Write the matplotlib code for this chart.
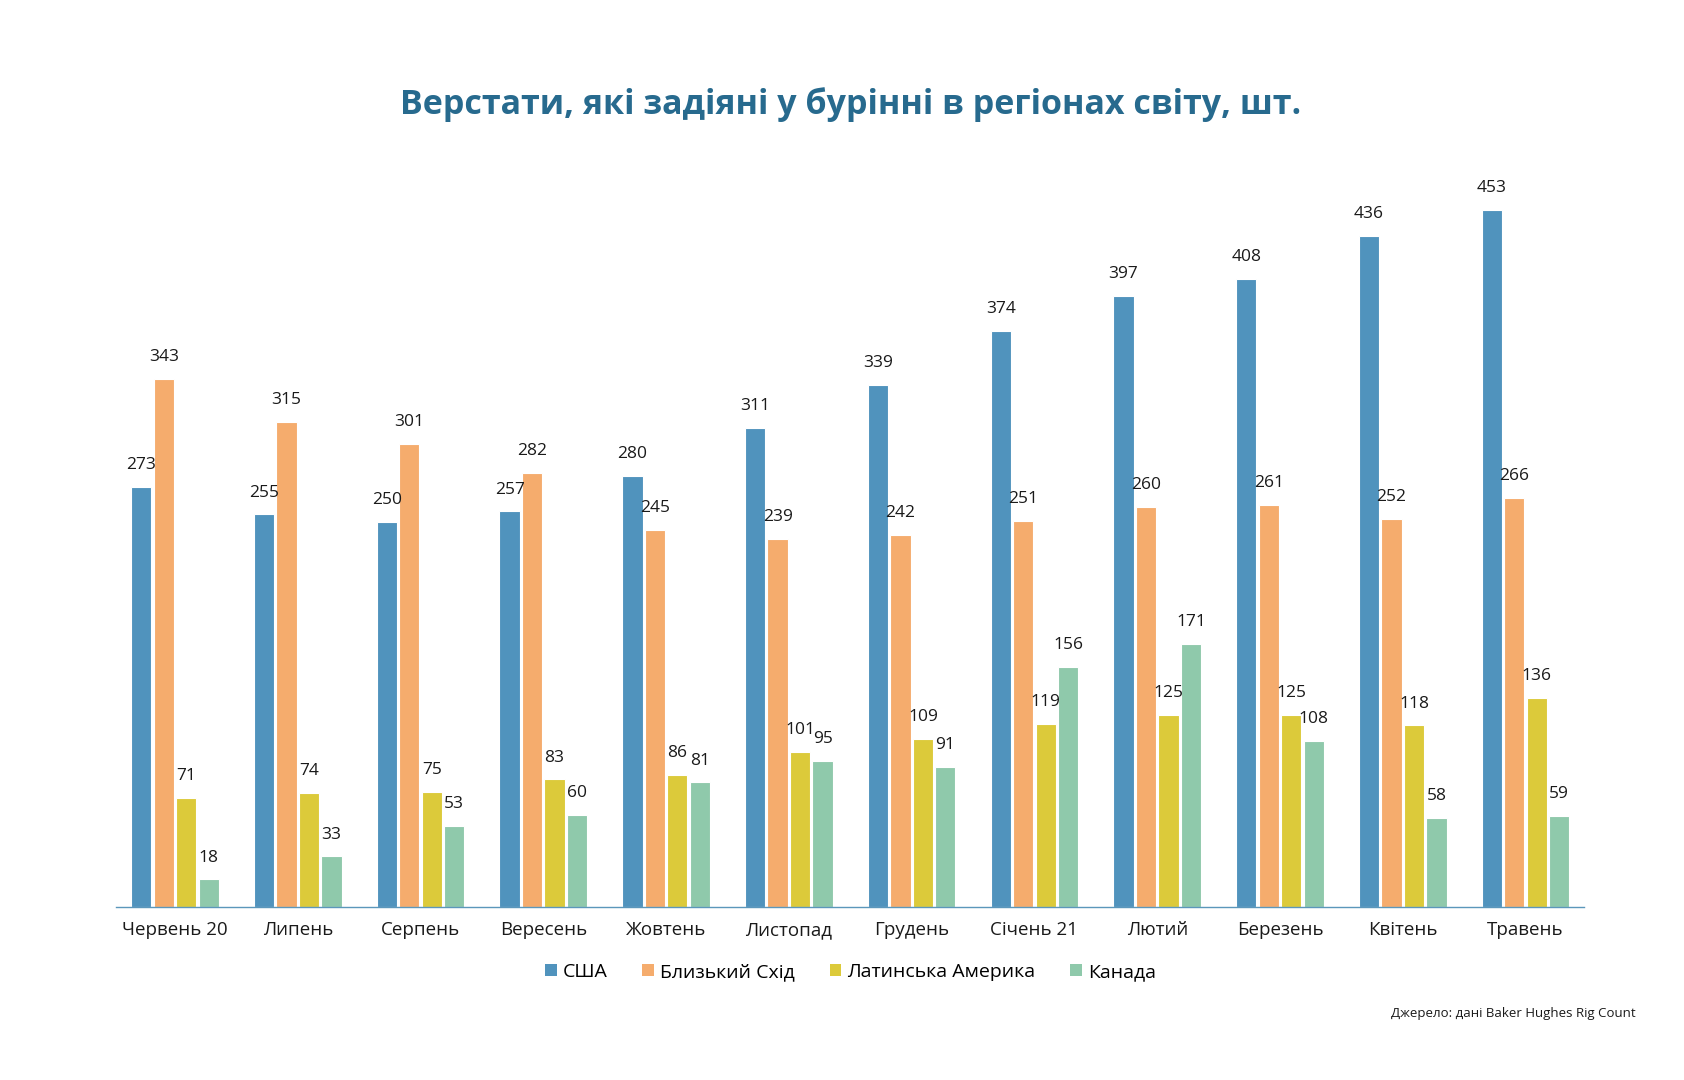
"""
Rig count by world region, June 2020 - May 2021 (grouped bars).
"""

import matplotlib.pyplot as plt
import numpy as np
from matplotlib.patches import Patch

MONTHS = ["Червень 20", "Липень", "Серпень", "Вересень", "Жовтень", "Листопад",
          "Грудень", "Січень 21", "Лютий", "Березень", "Квітень", "Травень"]
USA = [273, 255, 250, 257, 280, 311, 339, 374, 397, 408, 436, 453]
MIDDLE_EAST = [343, 315, 301, 282, 245, 239, 242, 251, 260, 261, 252, 266]
LATAM = [71, 74, 75, 83, 86, 101, 109, 119, 125, 125, 118, 136]
CANADA = [18, 33, 53, 60, 81, 95, 91, 156, 171, 108, 58, 59]
SERIES = ["США", "Близький Схід", "Латинська Америка", "Канада"]

COLORS = ["#5093bd", "#f5ac6d", "#dcca3a", "#8fc9ab"]
TITLE_C, INK, AXIS_C = "#276a8e", "#1a1a1a", "#5b97bb"

plt.rcParams["font.family"] = ["Open Sans", "DejaVu Sans"]

fig = plt.figure(figsize=(16.84, 10.8), dpi=100)
ax = fig.add_axes([0.0689, 0.160, 0.872, 0.713])

x = np.arange(len(MONTHS))
slot = 0.183
width = 0.165
for i, (vals, col) in enumerate(zip([USA, MIDDLE_EAST, LATAM, CANADA], COLORS)):
    pos = x + (i - 1.5) * slot
    bars = ax.bar(pos, vals, width=width, color=col, edgecolor="white", linewidth=0.8)
    for b, v in zip(bars, vals):
        ax.text(b.get_x() + b.get_width() / 2, v + 9, str(v), ha="center", va="bottom",
                fontsize=12.5, color=INK)

ax.set_xlim(-0.48, 11.48)
ax.set_ylim(0, 500)
ax.set_xticks(x)
ax.set_xticklabels(MONTHS, fontsize=13.5, color=INK)
ax.tick_params(axis="x", length=0, pad=10)
ax.set_yticks([])
for s in ["top", "right", "left"]:
    ax.spines[s].set_visible(False)
ax.spines["bottom"].set_color(AXIS_C)
ax.spines["bottom"].set_linewidth(1.0)

fig.text(0.505, 0.903, "Верстати, які задіяні у бурінні в регіонах світу, шт.",
         ha="center", va="center", fontsize=24.5, fontweight="bold", color=TITLE_C)

handles = [Patch(facecolor=c, edgecolor="none") for c in COLORS]
fig.legend(handles, SERIES, loc="center", bbox_to_anchor=(0.505, 0.1), ncol=4,
           frameon=False, fontsize=14, handlelength=0.6, handleheight=0.6,
           handletextpad=0.3, columnspacing=1.8)

fig.text(0.971, 0.062, "Джерело: дані Baker Hughes Rig Count", ha="right", va="center",
         fontsize=9.5, color=INK)

fig.savefig("out.png", dpi=100)
